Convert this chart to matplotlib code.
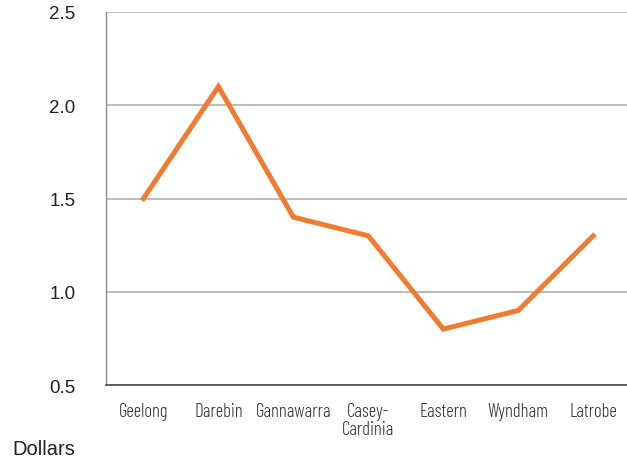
import matplotlib.pyplot as plt

# --- DATA ---
regions = ['Geelong', 'Darebin', 'Gannawarra', 'Casey-\nCardinia',
           'Eastern', 'Wyndham', 'Latrobe']
dollars = [1.5, 2.1, 1.4, 1.3, 0.8, 0.9, 1.3]
y_ticks = [0.5, 1.0, 1.5, 2.0, 2.5]

sans = ['Liberation Sans', 'DejaVu Sans']
narrow = ['Barlow Condensed', 'DejaVu Sans']

# --- PLOT ---
fig = plt.figure(figsize=(6.27, 4.64), dpi=100)
ax = fig.add_axes([0.169, 0.168, 0.831, 0.804])

x = range(len(regions))
ax.plot(x, dollars, color='#F07C32', lw=3.6, solid_joinstyle='miter', zorder=3)

ax.set_xlim(-0.5, 6.45)
ax.set_ylim(0.5, 2.5)
ax.set_yticks(y_ticks)
ax.set_yticklabels([f"{v:.1f}" for v in y_ticks], fontsize=13.5,
                   color='#222222', family=sans)
ax.set_xticks(list(x))
ax.set_xticklabels(regions, fontsize=13.5, color='#333333', family=narrow,
                   weight=300, linespacing=0.95)
ax.tick_params(axis='y', length=0, pad=22)
ax.tick_params(axis='x', length=0, pad=12.5)

ax.grid(axis='y', color='#b0b0b0', lw=1.2)
ax.set_axisbelow(True)
for s in ['top', 'right']:
    ax.spines[s].set_visible(False)
ax.spines['left'].set_color('#8a8a8a')
ax.spines['left'].set_linewidth(1.0)
ax.spines['bottom'].set_color('#555555')
ax.spines['bottom'].set_linewidth(1.3)

fig.text(0.019, 0.019, 'Dollars', fontsize=14.5, color='#222222',
         family=sans, va='baseline')

fig.savefig('out.png', dpi=100)
